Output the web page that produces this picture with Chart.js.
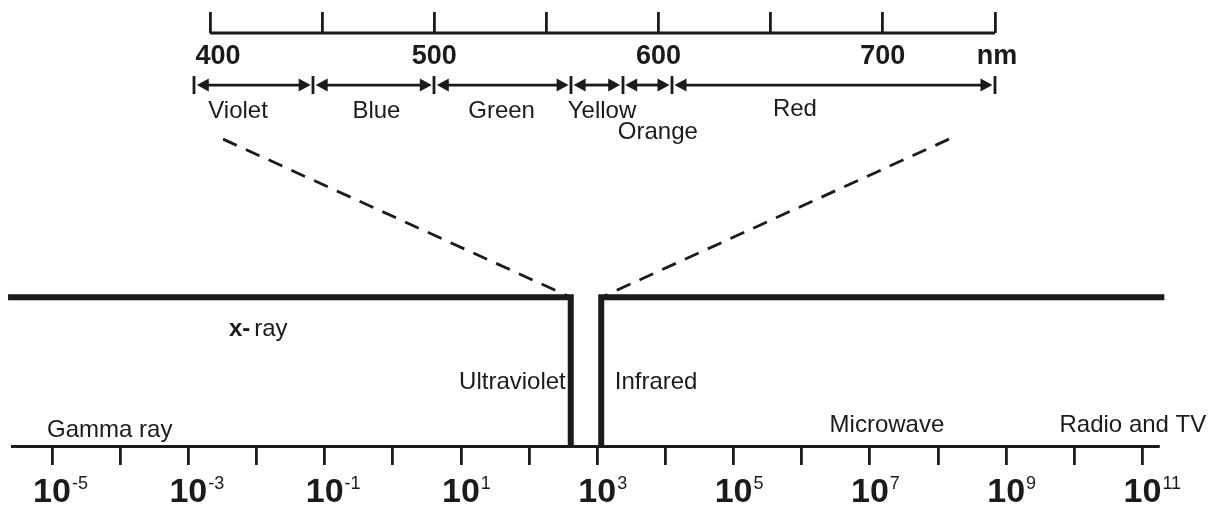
<!DOCTYPE html>
<html>
<head>
<meta charset="utf-8">
<script src="https://cdn.jsdelivr.net/npm/chart.js@4"></script>
<style>
  html, body { margin: 0; padding: 0; background: #ffffff; }
  #wrap { width: 1212px; height: 507px; }
</style>
</head>
<body>
<div id="wrap"><canvas id="c" width="1212" height="507"></canvas></div>
<script>
// ---------------- DATA ----------------
// Visible spectrum (top scale, nm)
const nmTicks      = [400, 450, 500, 550, 600, 650, 700, 750];
const nmTickLabels = ['400', '', '500', '', '600', '', '700', 'nm'];
const bandNames    = ['Violet', 'Blue', 'Green', 'Yellow', 'Orange', 'Red'];
const bandEdgesNm  = [393, 446, 500, 561, 584, 606, 750];

// Whole spectrum (bottom scale, wavelength in nm, log10 exponents)
const wavelengthTickExps  = [-5, -4, -3, -2, -1, 0, 1, 2, 3, 4, 5, 6, 7, 8, 9, 10, 11];
const wavelengthLabelExps = [-5, -3, -1, 1, 3, 5, 7, 9, 11];
const regionNames = ['Gamma ray', 'x-ray', 'Ultraviolet', 'Infrared', 'Microwave', 'Radio and TV'];
const visibleGapExp = [2.611, 3.058];     // UV edge and IR edge of the visible window
const spectrumSpanExp = [-5.645, 11.32];  // extent of the spectrum bar
const zoomFromExp = [-2.49, 8.16];        // where the dashed zoom lines start

// ---------------- LAYOUT (not data) ----------------
const FONT = '"Liberation Sans", Arial, Helvetica, sans-serif';
const INK = '#1b1b1b';
const L = {
  barLevel: 36, zoomLevel: 74.3, nmLevel: 100, arrowRow: 87.4,
  bandLabelNm:  [412.5, 474.2, 530, 574.8, 599.7, 660.8],
  bandLabelRow: [79.4, 79.4, 79.4, 79.4, 74.3, 79.9],
  nmLabelShift: [8, 0, 0, 0, 0, 0, 0, 2],
  region: [
    {exp: -5.073, lvl: 2.1, align: 'left'},
    {exp: -2.404, lvl: 26.6, align: 'left'},
    {exp: 2.538, lvl: 13.8, align: 'right'},
    {exp: 3.256, lvl: 13.8, align: 'left'},
    {exp: 6.409, lvl: 3.4, align: 'left'},
    {exp: 9.782, lvl: 3.4, align: 'left'}
  ]
};

const p10 = e => Math.pow(10, e);

const diagramPlugin = {
  id: 'diagram',
  afterDatasetsDraw(chart) {
    const {ctx, chartArea} = chart;
    const {x, x2, y} = chart.scales;
    ctx.save();
    ctx.fillStyle = INK;
    ctx.strokeStyle = INK;
    ctx.textBaseline = 'alphabetic';

    // nm labels
    ctx.font = 'bold 27px ' + FONT;
    ctx.textAlign = 'center';
    nmTicks.forEach((v, i) => {
      if (nmTickLabels[i]) ctx.fillText(nmTickLabels[i], x2.getPixelForValue(v) + L.nmLabelShift[i], chartArea.top + 31);
    });

    // band arrows
    const ay = y.getPixelForValue(L.arrowRow);
    ctx.lineWidth = 2.8;
    ctx.lineCap = 'butt';
    bandEdgesNm.forEach(e => {
      const px = Math.round(x2.getPixelForValue(e));
      ctx.beginPath(); ctx.moveTo(px, ay - 9); ctx.lineTo(px, ay + 9); ctx.stroke();
    });
    const head = 12, half = 6.5;
    for (let i = 0; i < bandNames.length; i++) {
      const a = x2.getPixelForValue(bandEdgesNm[i]) + 2.5;
      const b = x2.getPixelForValue(bandEdgesNm[i + 1]) - 2.5;
      ctx.beginPath(); ctx.moveTo(a + head - 1, ay); ctx.lineTo(b - head + 1, ay); ctx.stroke();
      ctx.beginPath(); ctx.moveTo(a, ay); ctx.lineTo(a + head, ay - half); ctx.lineTo(a + head, ay + half); ctx.closePath(); ctx.fill();
      ctx.beginPath(); ctx.moveTo(b, ay); ctx.lineTo(b - head, ay - half); ctx.lineTo(b - head, ay + half); ctx.closePath(); ctx.fill();
    }

    // band labels
    ctx.font = '24px ' + FONT;
    ctx.textAlign = 'center';
    bandNames.forEach((n, i) => {
      ctx.fillText(n, x2.getPixelForValue(L.bandLabelNm[i]), y.getPixelForValue(L.bandLabelRow[i]));
    });

    // region labels
    regionNames.forEach((n, i) => {
      const r = L.region[i];
      const px = x.getPixelForValue(p10(r.exp));
      const py = y.getPixelForValue(r.lvl);
      if (n === 'x-ray') {
        ctx.textAlign = 'left';
        ctx.font = 'bold 24px ' + FONT;
        ctx.fillText('x-', px, py);
        const w = ctx.measureText('x-').width;
        ctx.font = '24px ' + FONT;
        ctx.fillText('ray', px + w + 4, py);
      } else {
        ctx.font = '24px ' + FONT;
        ctx.textAlign = r.align;
        ctx.fillText(n, px, py);
      }
    });

    // bottom power-of-ten labels
    const base = x.top + 56;
    wavelengthLabelExps.forEach(e => {
      const px = x.getPixelForValue(p10(e));
      ctx.font = 'bold 34px ' + FONT;
      ctx.textAlign = 'center';
      ctx.fillText('10', px, base);
      const w = ctx.measureText('10').width;
      ctx.font = '18px ' + FONT;
      ctx.textAlign = 'left';
      ctx.fillText(String(e), px + w / 2 + 1, base - 13);
    });
    ctx.restore();
  }
};

const lineStyle = {
  borderColor: INK, pointRadius: 0, tension: 0, clip: false,
  borderJoinStyle: 'miter', borderCapStyle: 'butt', fill: false
};

const datasets = [
  Object.assign({}, lineStyle, { borderWidth: 6, data: [
    {x: p10(spectrumSpanExp[0]), y: L.barLevel},
    {x: p10(visibleGapExp[0]), y: L.barLevel},
    {x: p10(visibleGapExp[0]), y: 0}
  ]}),
  Object.assign({}, lineStyle, { borderWidth: 6, data: [
    {x: p10(visibleGapExp[1]), y: 0},
    {x: p10(visibleGapExp[1]), y: L.barLevel},
    {x: p10(spectrumSpanExp[1]), y: L.barLevel}
  ]}),
  Object.assign({}, lineStyle, { borderWidth: 2.8, borderDash: [15, 10], data: [
    {x: p10(zoomFromExp[0]), y: L.zoomLevel},
    {x: p10(visibleGapExp[0]), y: L.barLevel}
  ]}),
  Object.assign({}, lineStyle, { borderWidth: 2.8, borderDash: [15, 10], data: [
    {x: p10(zoomFromExp[1]), y: L.zoomLevel},
    {x: p10(visibleGapExp[1]), y: L.barLevel}
  ]}),
  Object.assign({}, lineStyle, { borderWidth: 2.8, xAxisID: 'x2', data: [
    {x: nmTicks[0], y: L.nmLevel},
    {x: nmTicks[nmTicks.length - 1], y: L.nmLevel}
  ]})
];

new Chart(document.getElementById('c'), {
  type: 'line',
  data: { datasets },
  options: {
    responsive: false,
    animation: false,
    events: [],
    layout: { padding: { top: 12, bottom: 42, left: 12, right: 54 } },
    plugins: { legend: { display: false }, tooltip: { enabled: false }, title: { display: false } },
    scales: {
      x: {
        type: 'logarithmic', position: 'bottom',
        min: p10(-5.587), max: p10(11.227),
        afterBuildTicks: s => { s.ticks = wavelengthTickExps.map(e => ({ value: p10(e) })); },
        afterFit: s => { s.height = 19; },
        ticks: { display: false },
        grid: { display: true, drawOnChartArea: false, drawTicks: true, tickLength: 19, lineWidth: 2.8, color: INK },
        border: { display: true, width: 3, color: INK }
      },
      x2: {
        type: 'linear', position: 'top',
        min: 311.72, max: 822.68,
        afterBuildTicks: s => { s.ticks = nmTicks.map(v => ({ value: v })); },
        afterFit: s => { s.height = 21; },
        ticks: { display: false },
        grid: { display: true, drawOnChartArea: false, drawTicks: true, tickLength: 21, lineWidth: 2.8, color: INK },
        border: { display: false }
      },
      y: { type: 'linear', display: false, min: 0, max: 100 }
    }
  },
  plugins: [diagramPlugin]
});
</script>
</body>
</html>
